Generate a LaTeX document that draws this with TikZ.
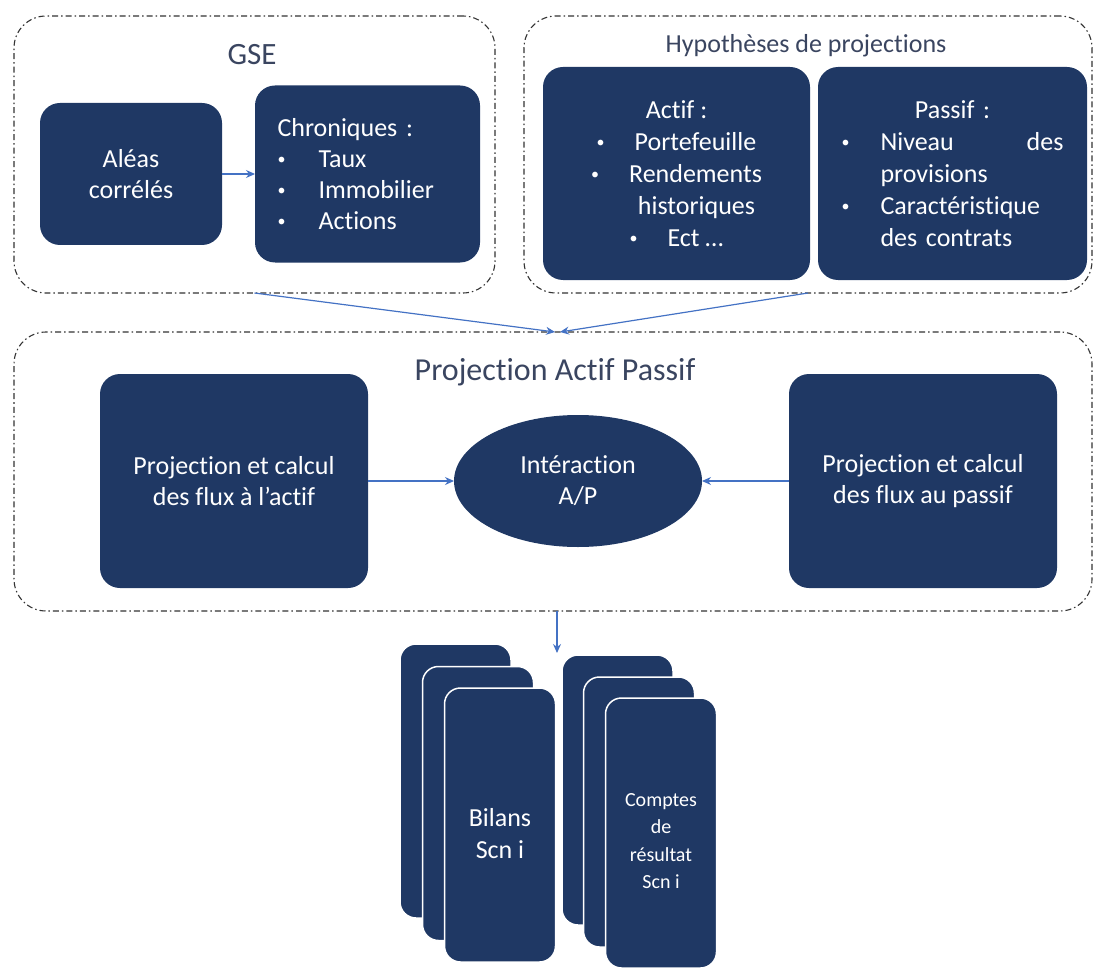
\documentclass[tikz,border=0pt]{standalone}
\usepackage{fontspec}
\setmainfont{Carlito}[Ligatures=NoCommon]
\usetikzlibrary{arrows.meta,shapes.geometric}
\definecolor{navy}{HTML}{1F3864}
\definecolor{flow}{HTML}{4472C4}
\definecolor{framecol}{HTML}{333333}
\definecolor{titlecol}{HTML}{3A4560}
% small list bullet, as in the slide's lists
\newcommand{\listdot}{\raisebox{2.5pt}{\fontsize{16}{16}\selectfont•}}

\begin{document}
\begin{tikzpicture}[x=1pt,y=-1pt,
  group/.style={draw=framecol, line width=1.1pt,
    dash pattern=on 6pt off 3pt on 1.5pt off 3pt,
    rounded corners=32pt, inner sep=0pt, outer sep=0pt},
  grouptitle/.style={text=titlecol, inner sep=0pt},
  block/.style={fill=navy, rounded corners=20pt, text=white, inner sep=0pt,
    outer sep=0pt, font=\fontsize{26}{31}\selectfont, align=center},
  card/.style={fill=navy, draw=white, line width=1.5pt, rounded corners=16pt,
    minimum width=111pt, inner sep=0pt},
  cardtext/.style={text=white, inner sep=0pt, align=center},
  flowarrow/.style={draw=flow, line width=1.2pt, -{Stealth[length=9pt,width=8pt]}}
]
\useasboundingbox (0,0) rectangle (1094,968);

% --- dashed groups -------------------------------------------------------
\node[group, minimum width=481pt, minimum height=277pt] (gse) at (254.5,154.5) {};
\node[group, minimum width=568pt, minimum height=277pt] (hyp) at (808,154.5) {};
\node[group, minimum width=1078pt, minimum height=279pt] (proj) at (553,471.5) {};

\node[grouptitle, font=\fontsize{31}{31}\selectfont] (gsetitle) at (252,55) {GSE};
\node[grouptitle, font=\fontsize{26}{26}\selectfont] (hyptitle) at (806,46) {Hypothèses de projections};
\node[grouptitle, font=\fontsize{32}{32}\selectfont] (projtitle) at (555,372) {Projection Actif Passif};

% --- scenario generator --------------------------------------------------
\node[block, minimum width=182pt, minimum height=142pt] (alea) at (131,174) {Aléas\\corrélés};
\node[block, minimum width=225pt, minimum height=177pt, text width=180pt, align=left] (chron) at (367.5,174)
  {Chroniques :\\
   \makebox[41pt][l]{\listdot}Taux\\
   \makebox[41pt][l]{\listdot}Immobilier\\
   \makebox[41pt][l]{\listdot}Actions};

% --- projection assumptions ----------------------------------------------
\node[block, minimum width=267pt, minimum height=213pt, font=\fontsize{26}{32}\selectfont] (actif) at (676.5,173.5)
  {Actif :\\
   \makebox[38pt][l]{\listdot}Portefeuille\\
   \makebox[38pt][l]{\listdot}Rendements\\
   \hspace*{40pt}historiques\\
   \makebox[38pt][l]{\listdot}Ect …};
\node[block, minimum width=269pt, minimum height=213pt, text width=222pt, align=left,
      font=\fontsize{26}{32}\selectfont] (passif) at (952.5,173.5)
  {\makebox[222pt][c]{Passif :}\\
   \makebox[39pt][l]{\listdot}\makebox[183pt][l]{Niveau\hfill des}\\
   \hspace*{39pt}provisions\\
   \makebox[39pt][l]{\listdot}Caractéristique\\
   \hspace*{39pt}des contrats};

% --- asset / liability projection ----------------------------------------
\node[block, minimum width=268pt, minimum height=214pt] (pactif) at (234,481)
  {Projection et calcul\\des flux à l’actif};
\node[block, minimum width=268pt, minimum height=214pt] (ppassif) at (923,481)
  {Projection et calcul\\des flux au passif};
\node[ellipse, fill=navy, text=white, inner sep=0pt, outer sep=0pt, minimum width=248pt, minimum height=132pt,
      align=center, font=\fontsize{26}{31}\selectfont] (inter) at (578,481) {Intéraction\\A/P};

% --- outputs: stacked cards ----------------------------------------------
\node[card, minimum height=274pt] (bil1) at (455.5,781) {};
\node[card, minimum height=274pt] (bil2) at (478,803.5) {};
\node[card, minimum height=274pt] (bil3) at (500,825) {};
\node[cardtext, font=\fontsize{26}{32}\selectfont] (biltext) at ([yshift=-9pt]bil3.center) {Bilans\\Scn i};

\node[card, minimum height=270pt] (cpt1) at (617.5,790) {};
\node[card, minimum height=270pt] (cpt2) at (639,812) {};
\node[card, minimum height=270pt] (cpt3) at (661,833) {};
\node[cardtext, font=\fontsize{20}{27.5}\selectfont] (cpttext) at ([yshift=-8pt]cpt3.center) {Comptes\\de\\résultat\\Scn i};

% --- connectors -----------------------------------------------------------
\draw[flowarrow] (alea) -- (chron);
\draw[flowarrow] (gse.south) -- ([xshift=2pt]proj.north);
\draw[flowarrow] (hyp.south) -- ([xshift=7pt]proj.north);
\draw[flowarrow] (pactif) -- (inter);
\draw[flowarrow] (ppassif) -- (inter);
\coordinate (results) at (557,653);
\draw[flowarrow] (proj.south -| results) -- (results);
\end{tikzpicture}
\end{document}
